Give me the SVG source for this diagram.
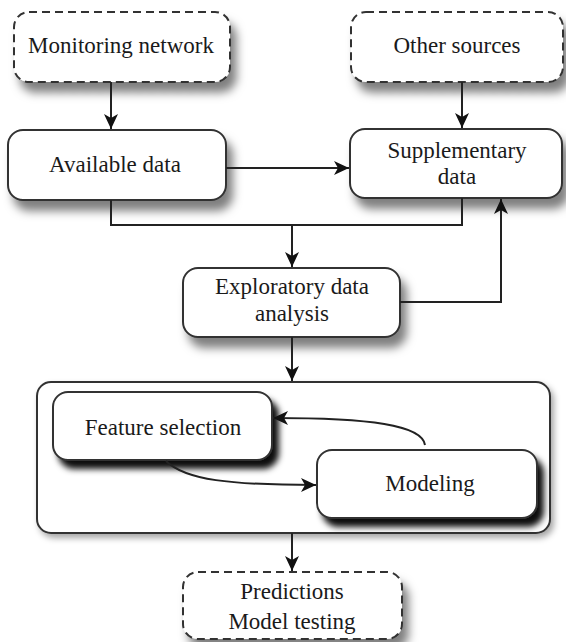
<svg xmlns="http://www.w3.org/2000/svg" width="566" height="642" viewBox="0 0 566 642">
<style>
.box{fill:#fff;stroke:#333;stroke-width:2}
.dash{stroke-dasharray:8 5}
.lbl{font-size:23px;fill:#1a1a1a;text-anchor:middle}
.con{fill:none;stroke:#222;stroke-width:2}
</style>
<defs>
<filter id="sh" x="-20%" y="-30%" width="150%" height="170%">
<feDropShadow dx="6" dy="10" stdDeviation="5" flood-color="#000" flood-opacity="0.5"/>
</filter>
<filter id="shd" x="-20%" y="-30%" width="150%" height="170%">
<feDropShadow dx="6" dy="8" stdDeviation="3" flood-color="#000" flood-opacity="0.95"/>
</filter>
<filter id="shc" x="-10%" y="-10%" width="120%" height="130%">
<feDropShadow dx="3" dy="4" stdDeviation="3" flood-color="#000" flood-opacity="0.35"/>
</filter>
<marker id="ah" markerUnits="userSpaceOnUse" markerWidth="16" markerHeight="16" refX="15" refY="8" orient="auto">
<path d="M0,1 L15,8 L0,15 L4,8 z" fill="#111"/>
</marker>
</defs>

<g font-family="Liberation Serif, Tinos, Times New Roman, DejaVu Serif, serif">
<g id="container">
<rect class="box" x="37" y="382" width="513" height="151" rx="14" filter="url(#shc)"/>
</g>

<g id="monitoring-network">
<rect class="box dash" x="14" y="12" width="216" height="70" rx="15" filter="url(#sh)"/>
<text class="lbl" x="121" y="53">Monitoring network</text>
</g>

<g id="other-sources">
<rect class="box dash" x="351" y="12" width="212" height="70" rx="15" filter="url(#sh)"/>
<text class="lbl" x="457" y="53">Other sources</text>
</g>

<g id="available-data">
<rect class="box" x="8" y="130" width="218" height="70" rx="15" filter="url(#sh)"/>
<text class="lbl" x="115" y="172">Available data</text>
</g>

<g id="supplementary-data">
<rect class="box" x="350" y="129" width="212" height="69" rx="15" filter="url(#sh)"/>
<text class="lbl" x="457" y="158">Supplementary</text>
<text class="lbl" x="457" y="184">data</text>
</g>

<g id="exploratory-data-analysis">
<rect class="box" x="183" y="268" width="217" height="69" rx="15" filter="url(#sh)"/>
<text class="lbl" x="292" y="294">Exploratory data</text>
<text class="lbl" x="292" y="321">analysis</text>
</g>

<g id="feature-selection">
<rect class="box" x="53" y="392" width="219" height="68" rx="15" filter="url(#shd)"/>
<text class="lbl" x="163" y="435">Feature selection</text>
</g>

<g id="modeling">
<rect class="box" x="317" y="450" width="220" height="68" rx="15" filter="url(#shd)"/>
<text class="lbl" x="430" y="491">Modeling</text>
</g>

<g id="predictions">
<rect class="box dash" x="183" y="572" width="219" height="67" rx="15" filter="url(#sh)"/>
<text class="lbl" x="292" y="599">Predictions</text>
<text class="lbl" x="292" y="629">Model testing</text>
</g>
</g>

<g id="connectors">
<path class="con" d="M111,82 V129" marker-end="url(#ah)"/>
<path class="con" d="M462,82 V128" marker-end="url(#ah)"/>
<path class="con" d="M226,168 H349" marker-end="url(#ah)"/>
<path class="con" d="M111,200 V225 H462 V198"/>
<path class="con" d="M292,225 V267" marker-end="url(#ah)"/>
<path class="con" d="M400,302 H501 V199" marker-end="url(#ah)"/>
<path class="con" d="M292,337 V381" marker-end="url(#ah)"/>
<path class="con" d="M425,445 C422,425 370,418 273,418" marker-end="url(#ah)"/>
<path class="con" d="M166,461 C185,480 230,485 316,485" marker-end="url(#ah)"/>
<path class="con" d="M292,533 V571" marker-end="url(#ah)"/>
</g>
</svg>
